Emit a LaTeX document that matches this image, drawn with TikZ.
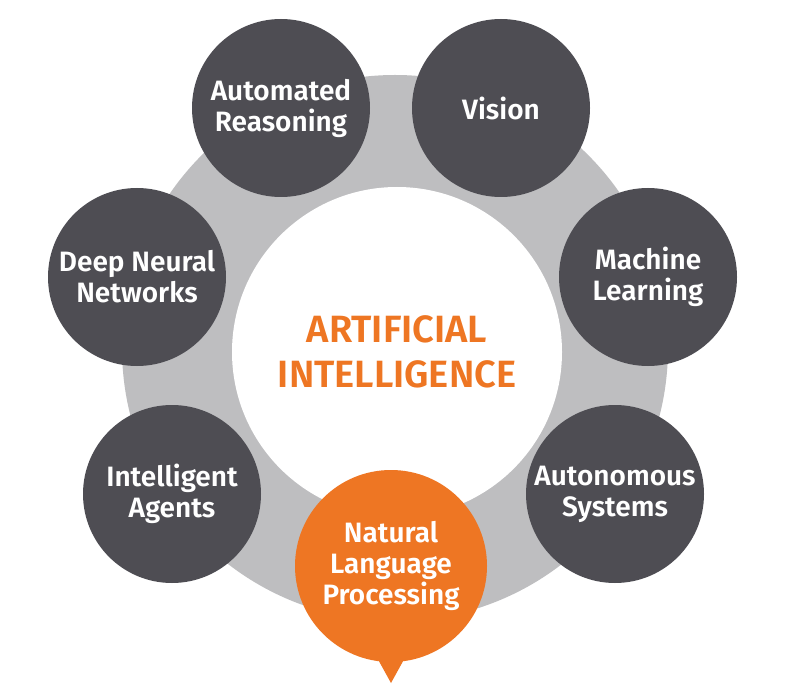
\documentclass[tikz,border=0pt]{standalone}
\usepackage{fontspec}
\setmainfont{Fira Sans}[BoldFont={Fira Sans SemiBold}]
\usepackage{xcolor}
\usepackage{tikz}
\usetikzlibrary{positioning,calc}
\definecolor{topicgray}{HTML}{4E4D53}
\definecolor{ringgray}{HTML}{BEBEC0}
\definecolor{aiorange}{HTML}{EE7623}

\begin{document}
\begin{tikzpicture}[
    x=1pt, y=-1pt,
    ring/.style={circle, fill=ringgray, minimum size=546pt, inner sep=0pt},
    core/.style={circle, fill=white, minimum size=330pt, inner sep=0pt, align=center, text=aiorange, font=\bfseries\fontsize{38}{45}\selectfont},
    topic/.style={circle, fill=topicgray, minimum size=178pt, inner sep=0pt, align=center, text=white, font=\bfseries\fontsize{28}{31}\selectfont},
    focus/.style={topic, fill=aiorange, minimum size=192pt}
]
\path[use as bounding box, fill=white] (0,0) rectangle (800,700);
\node[ring] (ring) at (395,348) {};
\node[core] (ai) at (397,352) {ARTIFICIAL\\INTELLIGENCE};
\node[topic] (reason) at (281,108) {Automated\\Reasoning};
\node[topic] (vision) at (501,108) {Vision};
\node[topic] (dnn) at (137,277) {Deep Neural\\Networks};
\node[topic] (ml) at (648,277) {Machine\\Learning};
\node[topic] (agents) at (172,494) {Intelligent\\Agents};
\node[topic] (auto) at (615,494) {Autonomous\\Systems};
\fill[aiorange] ([xshift=-16pt,yshift=8pt]391,662) -- (391,683) -- ([xshift=16pt,yshift=8pt]391,662) -- cycle;
\node[focus] (nlp) at (391,566) {Natural\\Language\\Processing};
\end{tikzpicture}
\end{document}
